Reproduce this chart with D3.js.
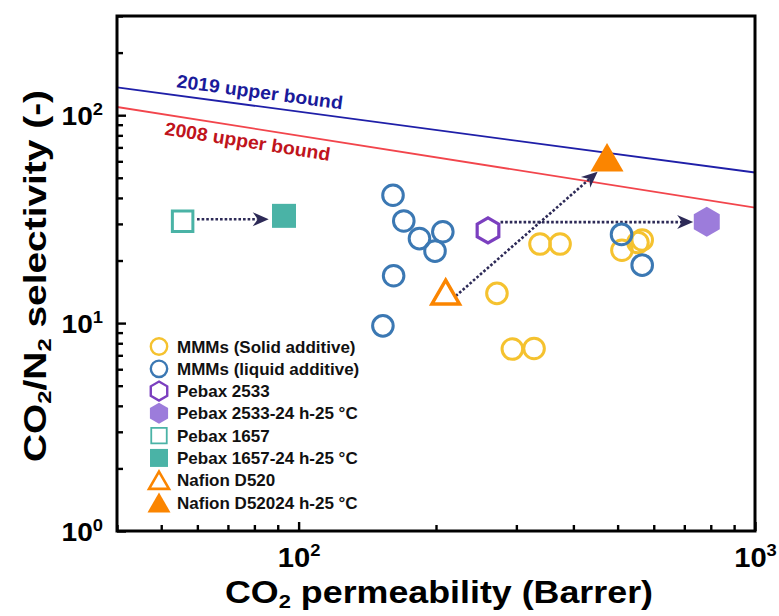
<!DOCTYPE html>
<html><head><meta charset="utf-8">
<script src="https://cdn.jsdelivr.net/npm/d3@7"></script>
<style>
body{margin:0;background:#fff;}
svg{display:block;font-family:"Liberation Sans",Arial,sans-serif;font-weight:bold;}
</style>
</head><body>
<svg id="c" width="779" height="616"></svg>
<script>
// ---------------- data ----------------
const solidP  = [272, 294, 328, 338, 374, 511, 554, 566];
const solidS  = [13.9, 7.5, 7.55, 24.0, 24.0, 22.4, 24.4, 25.1];
const liquidP = [161, 170, 184, 207, 199, 161.5, 153, 510, 566];
const liquidS = [41.2, 31.0, 25.5, 27.5, 22.2, 16.9, 9.7, 26.7, 19.0];
const pebax2533P = [260],  pebax2533S = [27.9];
const pebax2533tP = [784], pebax2533tS = [30.7];
const pebax1657P = [55.7], pebax1657S = [30.9];
const pebax1657tP = [92.9], pebax1657tS = [32.8];
const nafionP = [210], nafionS = [14.1];
const nafiontP = [474], nafiontS = [62.8];

const bound2019P = [40, 1000], bound2019S = [136, 53];
const bound2008P = [40, 1000], bound2008S = [109.5, 35.9];
const boundLabels = ["2019 upper bound", "2008 upper bound"];
const boundLabelP = [53.6, 51.5];

const arrowFromP = [59.9, 277, 221], arrowFromS = [31.6, 30.6, 13.5];
const arrowToP   = [86.0, 732, 452], arrowToS   = [31.6, 30.6, 53.4];

const legendLabels = ["MMMs (Solid additive)", "MMMs (liquid additive)", "Pebax 2533",
  "Pebax 2533-24 h-25 °C", "Pebax 1657", "Pebax 1657-24 h-25 °C", "Nafion D520", "Nafion D52024 h-25 °C"];

const xMajor = [100, 1000];
const xMinor = [40, 50, 60, 70, 80, 90, 200, 300, 400, 500, 600, 700, 800, 900];
const yMajor = [1, 10, 100];
const yMinor = [2, 3, 4, 5, 6, 7, 8, 9, 20, 30, 40, 50, 60, 70, 80, 90, 200, 300];

// ---------------- styles ----------------
const C = {yellow:"#f5c22f", blue:"#3b78b3", purpleDark:"#7b3fbf", purpleFill:"#9c7cdb",
  teal:"#4ab3a6", orange:"#fb8500", b2019:"#1f1fa8", t2019:"#1a1a9a", b2008:"#f2454c", t2008:"#c0141c", arrow:"#2d2a57"};

const svg = d3.select("#c");
const L = 117, R = 755, T = 16, B = 531;
const x = d3.scaleLog().domain([40, 1000]).range([L, R]);
const y = d3.scaleLog().domain([1, 300]).range([B, T]);

function widen(sel, f){ sel.each(function(){ const w=this.getComputedTextLength(); this.setAttribute("textLength", w*f); this.setAttribute("lengthAdjust","spacingAndGlyphs"); }); }
function hexPath(r){ const p=d3.path(); for(let k=0;k<6;k++){const a=(-90+60*k)*Math.PI/180; const px=r*Math.cos(a), py=r*Math.sin(a); k?p.lineTo(px,py):p.moveTo(px,py);} p.closePath(); return p.toString(); }
function triPath(s){ const h=s*Math.sqrt(3)/2; return `M0,${-h/2}L${s/2},${h/2}L${-s/2},${h/2}Z`; }
function sqPath(s){ return `M${-s/2},${-s/2}h${s}v${s}h${-s}Z`; }

// ---------------- axes ----------------
const gx = svg.append("g").attr("transform", `translate(0,${B})`);
gx.call(d3.axisBottom(x).tickValues(xMinor).tickSize(-6).tickFormat(""));
const gxM = svg.append("g").attr("transform", `translate(0,${B})`);
gxM.call(d3.axisBottom(x).tickValues(xMajor).tickSize(-9).tickFormat(""));
const gy = svg.append("g").attr("transform", `translate(${L},0)`);
gy.call(d3.axisLeft(y).tickValues(yMinor).tickSize(-6).tickFormat(""));
const gyM = svg.append("g").attr("transform", `translate(${L},0)`);
gyM.call(d3.axisLeft(y).tickValues(yMajor).tickSize(-9).tickFormat(""));
[gx, gxM, gy, gyM].forEach(g => { g.select(".domain").remove(); g.selectAll(".tick line").attr("stroke","#000").attr("stroke-width",2.4); });

// x tick labels
gxM.selectAll(".tick").each(function(d){
  const t = d3.select(this).append("text").attr("y", 36).attr("text-anchor","middle")
    .attr("fill","#000").style("font-size","27px").style("font-weight","bold");
  t.append("tspan").text("10");
  t.append("tspan").attr("dy",-11).style("font-size","17px").text(Math.round(Math.log10(d)));
});
gyM.selectAll(".tick").each(function(d){
  const t = d3.select(this).append("text").attr("x", -14).attr("y", 9).attr("text-anchor","end")
    .attr("fill","#000").style("font-size","26px").style("font-weight","bold");
  t.append("tspan").text("10");
  t.append("tspan").attr("dy",-10).style("font-size","17px").text(Math.round(Math.log10(d)));
});
widen(gxM.selectAll("text"), 1.08);
widen(gyM.selectAll("text"), 1.08);

// ---------------- upper bounds ----------------
const clip = svg.append("clipPath").attr("id","pc").append("rect").attr("x",L).attr("y",T).attr("width",R-L).attr("height",B-T);
const line = d3.line().x(d=>x(d[0])).y(d=>y(d[1]));
const bounds = [
  {P:bound2019P, S:bound2019S, lc:C.b2019, tc:C.t2019, off:-8},
  {P:bound2008P, S:bound2008S, lc:C.b2008, tc:C.t2008, off:20}
];
bounds.forEach((b,i)=>{
  svg.append("path").attr("d", line(b.P.map((p,j)=>[p,b.S[j]]))).attr("fill","none")
    .attr("stroke", b.lc).attr("stroke-width",1.8).attr("clip-path","url(#pc)");
  const x0=x(b.P[0]), y0=y(b.S[0]), x1=x(b.P[1]), y1=y(b.S[1]);
  const ang = Math.atan2(y1-y0, x1-x0);
  const lp = boundLabelP[i];
  const lx = x(lp), ly = y0 + (lx-x0)*(y1-y0)/(x1-x0);
  const t = svg.append("text").attr("transform", `translate(${lx},${ly}) rotate(${ang*180/Math.PI}) translate(0,${b.off})`)
    .attr("fill", b.tc).style("font-size","18.5px").text(boundLabels[i]);
  widen(t, 1.05);
});

// ---------------- arrows ----------------
const ga = svg.append("g");
arrowFromP.forEach((p,i)=>{
  const x0=x(p), y0=y(arrowFromS[i]), x1=x(arrowToP[i]), y1=y(arrowToS[i]);
  const ang = Math.atan2(y1-y0, x1-x0);
  const AL=16, AW=14, AN=5;
  const ex = x1 - Math.cos(ang)*(AL-AN), ey = y1 - Math.sin(ang)*(AL-AN);
  ga.append("line").attr("x1",x0).attr("y1",y0).attr("x2",ex).attr("y2",ey)
    .attr("stroke",C.arrow).attr("stroke-width",2.6).attr("stroke-dasharray","2.6,2");
  ga.append("path").attr("d", `M0,0L${-AL},${-AW/2}L${-AL+AN},0L${-AL},${AW/2}Z`)
    .attr("transform", `translate(${x1},${y1}) rotate(${ang*180/Math.PI})`).attr("fill", C.arrow);
});

// ---------------- points ----------------
const gp = svg.append("g");
gp.selectAll("circle.solid").data(solidP.map((p,i)=>[p,solidS[i]])).join("circle")
  .attr("cx",d=>x(d[0])).attr("cy",d=>y(d[1])).attr("r",10.3)
  .attr("fill","none").attr("stroke",C.yellow).attr("stroke-width",3);
gp.selectAll("circle.liq").data(liquidP.map((p,i)=>[p,liquidS[i]])).join("circle")
  .attr("cx",d=>x(d[0])).attr("cy",d=>y(d[1])).attr("r",10.3)
  .attr("fill","none").attr("stroke",C.blue).attr("stroke-width",3);
function pts(P,S){ return P.map((p,i)=>[p,S[i]]); }
const shapes = [
  {d:pts(pebax2533P,pebax2533S), path:hexPath(12.5), fill:"none", stroke:C.purpleDark, sw:3.2},
  {d:pts(pebax2533tP,pebax2533tS), path:hexPath(15), fill:C.purpleFill, stroke:"none", sw:0},
  {d:pts(pebax1657P,pebax1657S), path:sqPath(20.5), fill:"none", stroke:C.teal, sw:3},
  {d:pts(pebax1657tP,pebax1657tS), path:sqPath(24), fill:C.teal, stroke:"none", sw:0},
  {d:pts(nafionP,nafionS), path:triPath(27.5), fill:"none", stroke:C.orange, sw:3.5},
  {d:pts(nafiontP,nafiontS), path:triPath(33), fill:C.orange, stroke:"none", sw:0}
];
shapes.forEach(s=>{
  gp.append("g").selectAll("path").data(s.d).join("path").attr("d", s.path)
    .attr("transform", d=>`translate(${x(d[0])},${y(d[1])})`)
    .attr("fill", s.fill).attr("stroke", s.stroke).attr("stroke-width", s.sw).attr("stroke-linejoin","miter");
});

// ---------------- frame ----------------
svg.append("rect").attr("x",L).attr("y",T).attr("width",R-L).attr("height",B-T)
  .attr("fill","none").attr("stroke","#000").attr("stroke-width",3);

// ---------------- legend ----------------
const legMarkers = [
  {type:"circle", stroke:C.yellow},
  {type:"circle", stroke:C.blue},
  {path:hexPath(9.5), fill:"none", stroke:C.purpleDark, sw:2.4},
  {path:hexPath(10.5), fill:C.purpleFill, stroke:"none", sw:0},
  {path:sqPath(15.5), fill:"none", stroke:C.teal, sw:1.8},
  {path:sqPath(18), fill:C.teal, stroke:"none", sw:0},
  {path:triPath(20), fill:"none", stroke:C.orange, sw:2.6},
  {path:triPath(23), fill:C.orange, stroke:"none", sw:0}
];
const gl = svg.append("g");
const legY = d3.scalePoint().domain(legendLabels).range([346.5, 502.5]);
legendLabels.forEach((lab,i)=>{
  const yy = legY(lab), m = legMarkers[i];
  if (m.type==="circle") {
    gl.append("circle").attr("cx",159).attr("cy",yy).attr("r",8.2).attr("fill","none").attr("stroke",m.stroke).attr("stroke-width",2.4);
  } else {
    gl.append("path").attr("d",m.path).attr("transform",`translate(159,${yy})`)
      .attr("fill",m.fill).attr("stroke",m.stroke).attr("stroke-width",m.sw);
  }
  gl.append("text").attr("x",177).attr("y",yy+6).attr("fill","#111").style("font-size","17px").text(lab);
});

// ---------------- axis titles ----------------
const xt = svg.append("text").attr("x",439).attr("y",603).attr("text-anchor","middle").attr("fill","#000").style("font-size","31px");
xt.append("tspan").text("CO");
xt.append("tspan").attr("dy",5).style("font-size","19px").text("2");
xt.append("tspan").attr("dy",-5).text(" permeability (Barrer)");
xt.attr("textLength",428).attr("lengthAdjust","spacingAndGlyphs");

const yt = svg.append("text").attr("transform","translate(46,276) rotate(-90)").attr("text-anchor","middle").attr("fill","#000").style("font-size","31px");
yt.append("tspan").text("CO");
yt.append("tspan").attr("dy",5).style("font-size","19px").text("2");
yt.append("tspan").attr("dy",-5).text("/N");
yt.append("tspan").attr("dy",5).style("font-size","19px").text("2");
yt.append("tspan").attr("dy",-5).text(" selectivity (-)");
yt.attr("textLength",372).attr("lengthAdjust","spacingAndGlyphs");
</script>
</body></html>
